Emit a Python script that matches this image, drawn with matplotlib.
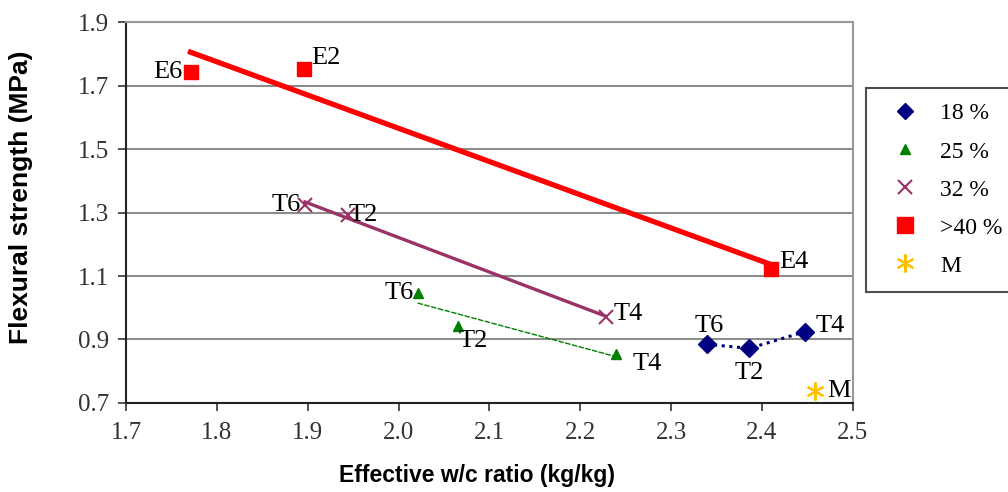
import numpy as np
import matplotlib
matplotlib.use("Agg")
import matplotlib.pyplot as plt
from matplotlib.lines import Line2D

serif = "Liberation Serif"
sans = "Liberation Sans"

# data
x18 = [2.339, 2.386, 2.447]
y18 = [0.885, 0.872, 0.924]
lab18 = ["T6", "T2", "T4"]

x25 = [2.021, 2.066, 2.239]
y25 = [1.045, 0.942, 0.854]
lab25 = ["T6", "T2", "T4"]

x32 = [1.897, 1.944, 2.228]
y32 = [1.325, 1.292, 0.972]
lab32 = ["T6", "T2", "T4"]

x40 = [1.771, 1.896, 2.410]
y40 = [1.743, 1.752, 1.121]
lab40 = ["E6", "E2", "E4"]

xM = [2.458]
yM = [0.738]

xticks = [1.7, 1.8, 1.9, 2.0, 2.1, 2.2, 2.3, 2.4, 2.5]
yticks = [0.7, 0.9, 1.1, 1.3, 1.5, 1.7, 1.9]

fig = plt.figure(figsize=(10.08, 4.92), dpi=100)
ax = fig.add_axes([0.125, 0.181, 0.721, 0.774])

ax.set_xlim(1.7, 2.5)
ax.set_ylim(0.7, 1.9)
ax.set_xticks(xticks)
ax.set_yticks(yticks)
ax.set_xticklabels(["%.1f" % v for v in xticks])
ax.set_yticklabels(["%.1f" % v for v in yticks])
for t in ax.get_xticklabels() + ax.get_yticklabels():
    t.set_fontfamily(serif)
    t.set_fontsize(18)
ax.tick_params(axis="both", direction="out", length=6, width=1.2, colors="#333333")
ax.tick_params(axis="x", pad=8)
ax.tick_params(axis="y", pad=6)

ax.grid(axis="y", color="#8c8c8c", linewidth=1.5)
ax.set_axisbelow(True)
for s in ["left", "bottom"]:
    ax.spines[s].set_color("#222222")
    ax.spines[s].set_linewidth(1.5)
for s in ["top", "right"]:
    ax.spines[s].set_color("#999999")
    ax.spines[s].set_linewidth(1.5)

# trend lines
def trend(x, y, color, lw, ls):
    k, b = np.polyfit(x, y, 1)
    xs = np.array([min(x), max(x)])
    ax.plot(xs, k * xs + b, color=color, lw=lw, ls=ls, zorder=2)

trend(x40, y40, "#ff0000", 3.8, "-")
trend(x32, y32, "#993366", 2.4, "-")
trend(x25, y25, "#008000", 1.0, (0, (4, 1)))
ax.plot(x18, y18, color="#000080", lw=2.2, ls=(0, (1, 1.5)), zorder=2)

ax.plot(x18, y18, "D", color="#000080", ms=9, ls="none", zorder=3)
ax.plot(x25, y25, "^", color="#008000", ms=7, ls="none", zorder=3)
ax.plot(x32, y32, "x", color="#993366", ms=10, mew=1.5, ls="none", zorder=3)
ax.plot(x40, y40, "s", color="#ff0000", ms=10, ls="none", zorder=3)
ax.plot(xM, yM, marker=(6, 2, 0), color="#ffc000", ms=13, mew=1.5, ls="none", zorder=3)

def lab(x, y, s, dx, dy, ha="left", va="center"):
    ax.annotate(s, (x, y), xytext=(dx, dy), textcoords="offset points",
                ha=ha, va=va, fontfamily=serif, fontsize=19)

# >40 %
lab(x40[0], y40[0], lab40[0], -6, 0, ha="right")
lab(x40[1], y40[1], lab40[1], 5, 8)
lab(x40[2], y40[2], lab40[2], 6, 5)
# 32 %
lab(x32[0], y32[0], lab32[0], -3, 0, ha="right")
lab(x32[1], y32[1], lab32[1], 1, 0)
lab(x32[2], y32[2], lab32[2], 6, 2)
# 25 %
lab(x25[0], y25[0], lab25[0], -3, 0, ha="right")
lab(x25[1], y25[1], lab25[1], 0, -11)
lab(x25[2], y25[2], lab25[2], 12, -7)
# 18 %
lab(x18[0], y18[0], lab18[0], 2, 13, ha="center")
lab(x18[1], y18[1], lab18[1], 0, -18, ha="center")
lab(x18[2], y18[2], lab18[2], 8, 4)
lab(xM[0], yM[0], "M", 9, 0)

# legend sits at the right edge as in the original
handles = [
    Line2D([], [], marker="D", color="#000080", ls="none", ms=8),
    Line2D([], [], marker="^", color="#008000", ls="none", ms=7),
    Line2D([], [], marker="x", color="#993366", ls="none", ms=10, mew=1.5),
    Line2D([], [], marker="s", color="#ff0000", ls="none", ms=11),
    Line2D([], [], marker=(6, 2, 0), color="#ffc000", ls="none", ms=13, mew=1.5),
]
labels = ["18 %", "25 %", "32 %", ">40 %", "M"]
leg = fig.legend(handles, labels, loc="upper left", bbox_to_anchor=(0.859, 0.822),
                 prop={"family": serif, "size": 17}, frameon=True, fancybox=False,
                 edgecolor="#222222", borderpad=0.65, labelspacing=0.7,
                 handletextpad=0.5, handlelength=2.0, borderaxespad=0)
leg.get_frame().set_linewidth(1.5)

ax.set_xlabel("Effective w/c ratio (kg/kg)", fontfamily=sans, fontweight="bold",
              fontsize=16.5)
ax.xaxis.set_label_coords(0.483, -0.16)
ax.set_ylabel("Flexural strength (MPa)", fontfamily=sans, fontweight="bold",
              fontsize=19)
ax.yaxis.set_label_coords(-0.128, 0.54)

fig.savefig("out.png", dpi=100)
